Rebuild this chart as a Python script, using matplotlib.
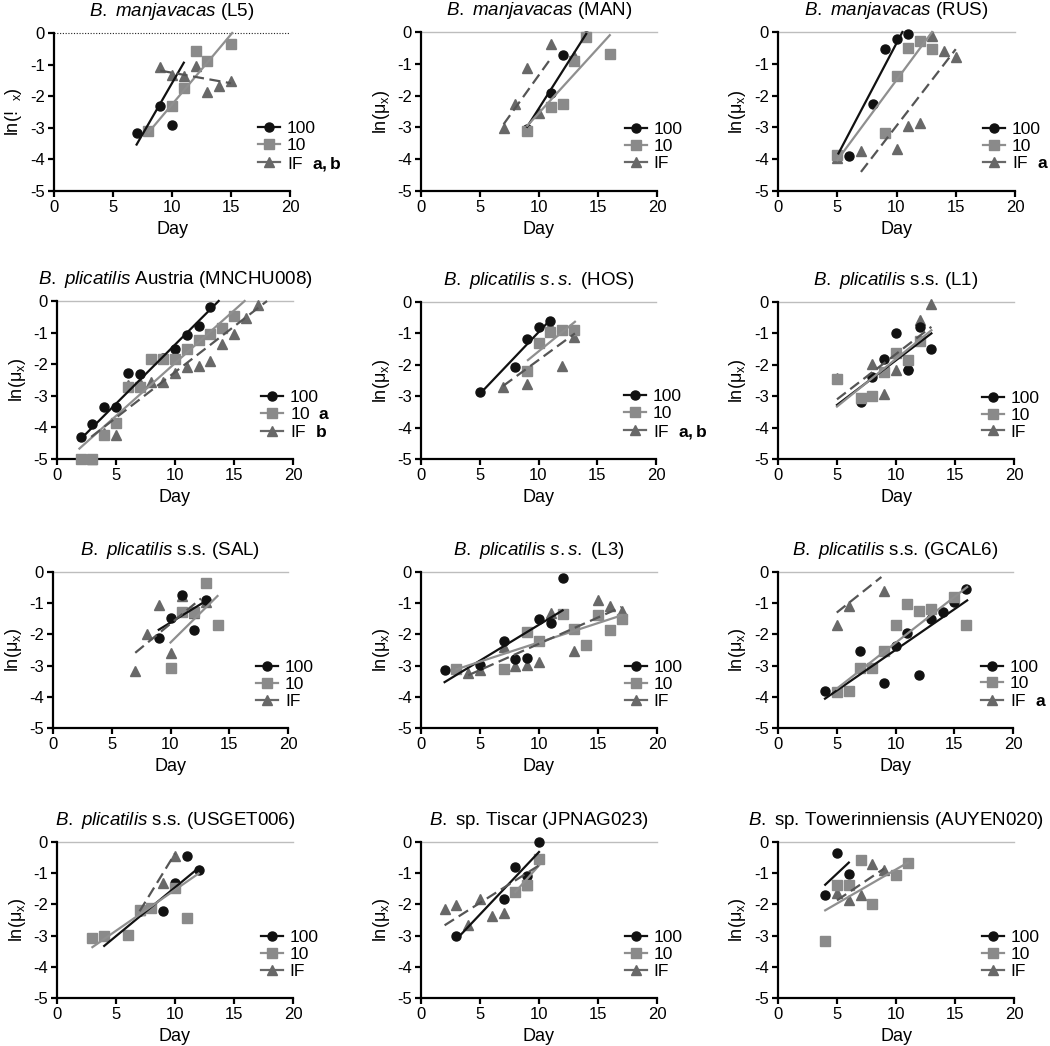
import matplotlib
matplotlib.use("Agg")
import matplotlib.pyplot as plt
from matplotlib.lines import Line2D

plt.rcParams.update({
    "font.family": ["Liberation Sans", "DejaVu Sans"],
    "font.size": 12,
    "mathtext.fontset": "custom",
    "mathtext.rm": "Liberation Sans",
    "mathtext.it": "Liberation Sans:italic",
    "mathtext.bf": "Liberation Sans:bold",
    "axes.unicode_minus": False,
})

# ---------------- data (day, ln(mu_x)) ----------------
# Panel 1: B. manjavacas (L5)
L5_100_x = [7, 9, 10]
L5_100_y = [-3.15, -2.3, -2.92]
L5_10_x = [8, 10, 11, 12, 13, 15]
L5_10_y = [-3.1, -2.3, -1.74, -0.56, -0.9, -0.36]
L5_IF_x = [9, 10, 11, 12, 13, 14, 15]
L5_IF_y = [-1.08, -1.32, -1.36, -1.05, -1.87, -1.69, -1.53]
L5_fits = [[7, 11, -3.53, -0.94], [8, 15.1, -3.15, 0.0], [9, 15, -1.19, -1.59]]

# Panel 2: B. manjavacas (MAN)
MAN_100_x = [9, 11, 12, 14]
MAN_100_y = [-3.05, -1.93, -0.71, -0.12]
MAN_10_x = [9, 11, 12, 13, 14, 16]
MAN_10_y = [-3.1, -2.35, -2.25, -0.9, -0.15, -0.68]
MAN_IF_x = [7, 8, 9, 10, 11, 13]
MAN_IF_y = [-3.03, -2.27, -1.14, -2.56, -0.38, -0.75]
MAN_fits = [[9, 14, -2.98, -0.06], [9, 16, -2.95, -0.1], [7, 11.1, -2.9, -0.78]]

# Panel 3: B. manjavacas (RUS)
RUS_100_x = [6, 8, 9, 10, 11]
RUS_100_y = [-3.89, -2.26, -0.54, -0.21, -0.07]
RUS_10_x = [5, 9, 10, 11, 12, 13]
RUS_10_y = [-3.87, -3.17, -1.38, -0.51, -0.29, -0.54]
RUS_IF_x = [5, 7, 10, 11, 12, 13, 14, 15]
RUS_IF_y = [-3.95, -3.74, -3.69, -2.96, -2.87, -0.14, -0.61, -0.79]
RUS_fits = [[5.1, 10.5, -3.82, 0.0], [5, 13, -4.03, 0.0], [7, 15, -4.4, -0.54]]

# Panel 4: B. plicatilis Austria (MNCHU008)
MNC_100_x = [2, 3, 4, 5, 6, 7, 8, 9, 10, 11, 12, 13]
MNC_100_y = [-4.3, -3.88, -3.35, -3.35, -2.29, -2.31, -1.85, -1.8, -1.51, -1.09, -0.79, -0.19]
MNC_10_x = [2, 3, 4, 5, 6, 7, 8, 9, 10, 11, 12, 13, 14, 15]
MNC_10_y = [-5.0, -5.0, -4.25, -3.86, -2.72, -2.72, -1.84, -1.84, -1.84, -1.53, -1.24, -1.03, -0.84, -0.47]
MNC_IF_x = [3, 4, 5, 6, 7, 8, 9, 10, 11, 12, 13, 14, 15, 16, 17]
MNC_IF_y = [-5.0, -4.18, -4.25, -2.66, -2.59, -2.55, -2.55, -2.27, -2.1, -2.06, -1.9, -1.37, -1.05, -0.53, -0.13]
MNC_fits = [[1.9, 13.7, -4.41, 0.0], [1.9, 15.9, -4.67, 0.0], [2.9, 17.8, -4.3, 0.0]]

# Panel 5: B. plicatilis s.s. (HOS)
HOS_100_x = [5, 8, 9, 10, 11]
HOS_100_y = [-2.88, -2.08, -1.19, -0.81, -0.6]
HOS_10_x = [9, 10, 11, 12, 13]
HOS_10_y = [-2.19, -1.3, -0.95, -0.9, -0.9]
HOS_IF_x = [7, 9, 11, 12, 13]
HOS_IF_y = [-2.7, -2.62, -0.77, -2.04, -1.13]
HOS_fits = [[5, 11.1, -2.93, -0.53], [9.1, 13.1, -1.85, -0.63], [7, 13.1, -2.67, -1.0]]

# Panel 6: B. plicatilis s.s. (L1)
L1_100_x = [7, 8, 9, 10, 11, 12, 13]
L1_100_y = [-3.17, -2.38, -1.83, -0.98, -2.17, -0.79, -1.51]
L1_10_x = [5, 7, 8, 9, 10, 11, 12]
L1_10_y = [-2.46, -3.07, -2.99, -2.22, -1.64, -1.85, -1.24]
L1_IF_x = [5, 8, 9, 10, 11, 12, 13]
L1_IF_y = [-2.43, -1.96, -2.93, -2.15, -2.0, -0.58, -0.05]
L1_fits = [[5, 13, -3.28, -1.0], [5, 13, -3.33, -0.9], [5, 13, -3.1, -0.79]]

# Panel 7: B. plicatilis s.s. (SAL)
SAL_100_x = [9, 10, 11, 12, 13]
SAL_100_y = [-2.1, -1.47, -0.75, -1.87, -0.91]
SAL_10_x = [10, 11, 12, 13, 14]
SAL_10_y = [-3.08, -1.28, -1.28, -0.34, -1.69]
SAL_IF_x = [7, 8, 9, 10, 11, 12, 13]
SAL_IF_y = [-3.18, -2.0, -1.05, -2.59, -0.78, -1.3, -0.95]
SAL_fits = [[9, 12.7, -1.85, -1.0], [10, 14, -2.26, -0.77], [7, 12.6, -2.59, -0.85]]

# Panel 8: B. plicatilis s.s. (L3)
L3_100_x = [2, 5, 7, 8, 9, 10, 11, 12]
L3_100_y = [-3.13, -2.99, -2.21, -2.8, -2.76, -1.52, -1.62, -0.19]
L3_10_x = [3, 7, 9, 10, 12, 13, 14, 15, 16, 17]
L3_10_y = [-3.1, -3.12, -1.92, -2.22, -1.34, -1.82, -2.35, -1.37, -1.87, -1.52]
L3_IF_x = [4, 5, 7, 8, 9, 10, 11, 13, 15, 16, 17]
L3_IF_y = [-3.23, -3.15, -2.4, -3.01, -2.99, -2.88, -1.3, -2.54, -0.91, -1.09, -1.26]
L3_fits = [[2, 12, -3.53, -1.23], [3, 17, -3.12, -1.39], [4, 17, -3.31, -1.12]]

# Panel 9: B. plicatilis s.s. (GCAL6)
GC_100_x = [4, 7, 9, 10, 11, 12, 13, 14, 15, 16]
GC_100_y = [-3.82, -2.54, -3.55, -2.37, -1.96, -3.29, -1.52, -1.28, -0.95, -0.53]
GC_10_x = [5, 6, 7, 8, 9, 10, 11, 12, 13, 15, 16]
GC_10_y = [-3.85, -3.81, -3.08, -3.08, -2.54, -1.71, -1.01, -1.26, -1.18, -0.8, -1.71]
GC_IF_x = [5, 6, 9]
GC_IF_y = [-1.71, -1.09, -0.62]
GC_fits = [[4, 16.1, -4.06, -0.91], [5, 16.1, -3.74, -0.48], [5, 8.8, -1.3, -0.16]]

# Panel 10: B. plicatilis s.s. (USGET006)
US_100_x = [4, 7, 9, 10, 11, 12]
US_100_y = [-3.0, -2.2, -2.21, -1.3, -0.46, -0.91]
US_10_x = [3, 4, 6, 7, 8, 10, 11]
US_10_y = [-3.08, -3.01, -2.97, -2.19, -2.12, -1.47, -2.44]
US_IF_x = [7, 9, 10]
US_IF_y = [-2.19, -1.31, -0.46]
US_fits = [[4, 12.1, -3.33, -0.8], [3, 12, -3.37, -1.01], [7, 10, -2.22, -0.37]]

# Panel 11: B. sp. Tiscar (JPNAG023)
JP_100_x = [3, 7, 8, 9, 10]
JP_100_y = [-3.01, -1.82, -0.8, -1.09, 0.0]
JP_10_x = [8, 9, 10]
JP_10_y = [-1.6, -1.37, -0.56]
JP_IF_x = [2, 3, 4, 5, 6, 7, 9]
JP_IF_y = [-2.16, -2.01, -2.67, -1.82, -2.37, -2.26, -1.39]
JP_fits = [[3, 10, -3.12, -0.32], [8, 10, -1.6, -0.75], [2, 10, -2.67, -0.75]]

# Panel 12: B. sp. Towerinniensis (AUYEN020)
AU_100_x = [4, 5, 6]
AU_100_y = [-1.69, -0.34, -1.01]
AU_10_x = [4, 5, 6, 7, 8, 10, 11]
AU_10_y = [-3.17, -1.39, -1.37, -0.59, -2.0, -1.07, -0.66]
AU_IF_x = [5, 6, 7, 8, 9]
AU_IF_y = [-1.62, -1.87, -1.71, -0.69, -0.91]
AU_fits = [[4, 6, -1.37, -0.66], [4, 11, -2.19, -0.66], [5, 9, -1.87, -0.85]]

titles = [
    r"$\mathit{B.\ manjavacas}$ (L5)",
    r"$\mathit{B.\ manjavacas}$ (MAN)",
    r"$\mathit{B.\ manjavacas}$ (RUS)",
    r"$\mathit{B.\ plicatilis}$ Austria (MNCHU008)",
    r"$\mathit{B.\ plicatilis\ s.s.}$ (HOS)",
    r"$\mathit{B.\ plicatilis}$ s.s. (L1)",
    r"$\mathit{B.\ plicatilis}$ s.s. (SAL)",
    r"$\mathit{B.\ plicatilis\ s.s.}$ (L3)",
    r"$\mathit{B.\ plicatilis}$ s.s. (GCAL6)",
    r"$\mathit{B.\ plicatilis}$ s.s. (USGET006)",
    r"$\mathit{B.}$ sp. Tiscar (JPNAG023)",
    r"$\mathit{B.}$ sp. Towerinniensis (AUYEN020)",
]
# significance letters for legend entries (100, 10, IF)
letters = [
    ["", "", "a,b"], ["", "", ""], ["", "", "a"],
    ["", "a", "b"], ["", "", "a,b"], ["", "", ""],
    ["", "", ""], ["", "", ""], ["", "", "a"],
    ["", "", ""], ["", "", ""], ["", "", ""],
]
treatments = ["100", "10", "IF"]
x_ticks = [0, 5, 10, 15, 20]
y_ticks = [0, -1, -2, -3, -4, -5]

panels = [
    (L5_100_x, L5_100_y, L5_10_x, L5_10_y, L5_IF_x, L5_IF_y, L5_fits),
    (MAN_100_x, MAN_100_y, MAN_10_x, MAN_10_y, MAN_IF_x, MAN_IF_y, MAN_fits),
    (RUS_100_x, RUS_100_y, RUS_10_x, RUS_10_y, RUS_IF_x, RUS_IF_y, RUS_fits),
    (MNC_100_x, MNC_100_y, MNC_10_x, MNC_10_y, MNC_IF_x, MNC_IF_y, MNC_fits),
    (HOS_100_x, HOS_100_y, HOS_10_x, HOS_10_y, HOS_IF_x, HOS_IF_y, HOS_fits),
    (L1_100_x, L1_100_y, L1_10_x, L1_10_y, L1_IF_x, L1_IF_y, L1_fits),
    (SAL_100_x, SAL_100_y, SAL_10_x, SAL_10_y, SAL_IF_x, SAL_IF_y, SAL_fits),
    (L3_100_x, L3_100_y, L3_10_x, L3_10_y, L3_IF_x, L3_IF_y, L3_fits),
    (GC_100_x, GC_100_y, GC_10_x, GC_10_y, GC_IF_x, GC_IF_y, GC_fits),
    (US_100_x, US_100_y, US_10_x, US_10_y, US_IF_x, US_IF_y, US_fits),
    (JP_100_x, JP_100_y, JP_10_x, JP_10_y, JP_IF_x, JP_IF_y, JP_fits),
    (AU_100_x, AU_100_y, AU_10_x, AU_10_y, AU_IF_x, AU_IF_y, AU_fits),
]

# ---------------- layout / style ----------------
W, H = 1050, 1046
# pixel boxes: (x at day 0, x at day 20, y at 0, y at -5)
boxes = [
    (54, 290, 33, 191), (421, 657, 32, 191), (778, 1015, 32, 191),
    (57, 293, 301, 459), (421, 656, 302, 459), (778, 1014, 302, 459),
    (53, 288, 572, 728), (421, 657, 572, 728), (778, 1013, 572, 728),
    (57, 293, 842, 998), (421, 657, 842, 998), (778, 1014, 842, 998),
]
mcol = ["#111111", "#8a8a8a", "#686868"]
lcol = ["#111111", "#8f8f8f", "#555555"]
markers = ["o", "s", "^"]
msizes = [6.5, 6.5, 7]
zorders = [4, 5, 3]

fig = plt.figure(figsize=(W / 100, H / 100), dpi=100)

for i, (p, box) in enumerate(zip(panels, boxes)):
    x0, x1, yt, yb = box
    ax = fig.add_axes([x0 / W, 1 - yb / H, (x1 - x0) / W, (yb - yt) / H])
    xs = [p[0], p[2], p[4]]
    ys = [p[1], p[3], p[5]]
    fits = p[6]
    if i == 0:
        ax.axhline(0, color="#222222", lw=0.8, ls=(0, (1, 1.5)), zorder=1, clip_on=False)
    else:
        ax.axhline(0, color="#bdbdbd", lw=1.0, zorder=1, clip_on=False)
    for k in [2, 0, 1]:
        ax.plot(xs[k], ys[k], ls="none", marker=markers[k], ms=msizes[k],
                color=mcol[k], mec=mcol[k], zorder=zorders[k], clip_on=False)
    for k in range(3):
        fx0, fx1, fy0, fy1 = fits[k]
        ax.plot([fx0, fx1], [fy0, fy1], color=lcol[k], lw=1.6,
                ls=(0, (5, 2.5)) if k == 2 else "-", zorder=6, clip_on=False)
    ax.set_xlim(0, 20)
    ax.set_ylim(-5, 0)
    ax.set_xticks(x_ticks)
    ax.set_yticks(y_ticks)
    for s in ["top", "right"]:
        ax.spines[s].set_visible(False)
    for s in ["left", "bottom"]:
        ax.spines[s].set_linewidth(1.6)
    ax.tick_params(direction="out", length=4.5, width=1.6, labelsize=12, pad=2)
    ax.set_xlabel("Day", fontsize=13, labelpad=4)
    ylab = r"ln(!  $_{\mathrm{x}}$)" if i == 0 else r"ln(μ$_{\mathrm{x}}$)"
    ax.set_ylabel(ylab, fontsize=13, va="center")
    ax.yaxis.set_label_coords(-40.0 / (x1 - x0), 0.5)
    ax.set_title(titles[i], fontsize=13.5, pad=12)
    handles = []
    labs = []
    for k in range(3):
        handles.append(Line2D([], [], color=lcol[k] if k < 2 else mcol[k], lw=1.6,
                              marker=markers[k], ms=msizes[k], mfc=mcol[k], mec=mcol[k]))
        lt = treatments[k]
        if letters[i][k]:
            lt = lt + "  " + r"$\mathbf{" + letters[i][k] + "}$"
        labs.append(lt)
    ax.legend(handles, labs, loc="center left", bbox_to_anchor=(0.865, 0.28),
              frameon=False, fontsize=12.5, handlelength=1.25, handletextpad=0.4,
              labelspacing=0.1, borderpad=0, borderaxespad=0)

fig.savefig("out.png", dpi=100)
